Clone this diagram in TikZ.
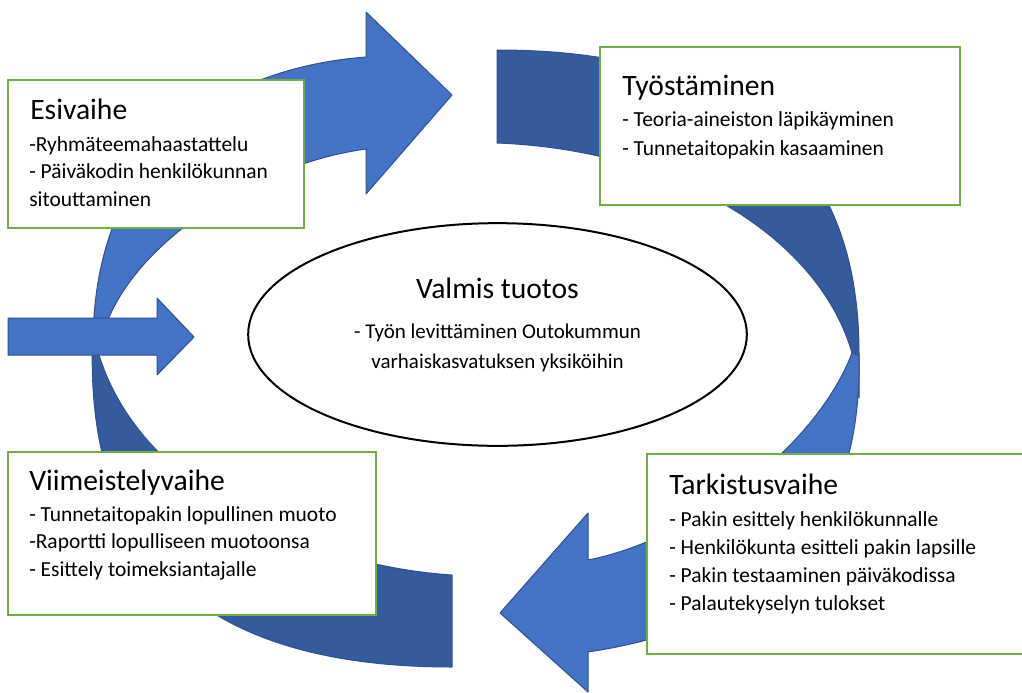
\documentclass[tikz,border=0pt]{standalone}
\usepackage{fontspec}
\setmainfont{Carlito}
\usetikzlibrary{calc}
\usetikzlibrary{positioning}
\usetikzlibrary{shapes.geometric}

\definecolor{boxgreen}{HTML}{70AD47}
\definecolor{arrowblue}{HTML}{4472C4}
\definecolor{arrowdark}{HTML}{365B9D}
\definecolor{arrowline}{HTML}{2F528F}

\begin{document}
\begin{tikzpicture}[x=0.75pt, y=-0.75pt,
    stage/.style={rectangle, draw=boxgreen, line width=1.5pt, fill=white},
    phase/.style={anchor=base west, inner sep=0pt, font=\fontsize{22.2}{26}\selectfont},
    item/.style={anchor=base west, inner sep=0pt, font=\fontsize{16.1}{19}\selectfont},
    front/.style={fill=arrowblue, draw=arrowline, line width=0.75pt, line join=round},
    back/.style={fill=arrowdark, draw=arrowline, line width=0.75pt, line join=round}]
    \clip (0,0) rectangle (1022,693);
    \fill[white] (0,0) rectangle (1022,693);

    % back halves of the two curved arrows
    \draw[back] (497,50) .. controls (720,50) and (859,140) .. (859,353) -- (859,398) -- (852,353) .. controls (820,240) and (680,150) .. (497,143) -- cycle;
    \draw[back] (452,575) .. controls (300,565) and (120,480) .. (93,330) .. controls (80,580) and (230,667) .. (452,667) -- cycle;

    % front halves with heads
    \draw[front] (93,345) .. controls (93,170) and (200,70) .. (366,57) -- (366,12) -- (452,95) -- (366,194) -- (366,149) .. controls (250,165) and (120,250) .. (100,345) -- cycle;
    \draw[front] (852,353) .. controls (815,450) and (690,540) .. (588,560) -- (588,513) -- (500,613) -- (588,692) -- (588,652) .. controls (800,620) and (862,500) .. (859,355) -- cycle;

    % phase boxes
    \node[stage, minimum width=222pt, minimum height=111pt] (esi) at (156,154) {};
    \node[stage, minimum width=270pt, minimum height=118.5pt] (tyo) at (780,126) {};
    \node[stage, minimum width=276pt, minimum height=122.25pt] (vii) at (192,533.5) {};
    \node[stage, minimum width=294.75pt, minimum height=150pt] (tar) at (843.5,554) {};

    \node[phase] (esi-t) at ($(esi.north west)+(23,40)$) {Esivaihe};
    \foreach \x [count=\i from 0] in {-Ryhmäteemahaastattelu, - Päiväkodin henkilökunnan, sitouttaminen}
        \node[item] (esi-\i) at ($(esi-t.base west)+(-1,32+27.5*\i)$) {\x};

    \node[phase] (tyo-t) at ($(tyo.north west)+(23,49)$) {Työstäminen};
    \foreach \x [count=\i from 0] in {- Teoria-aineiston läpikäyminen, - Tunnetaitopakin kasaaminen}
        \node[item] (tyo-\i) at ($(tyo-t.base west)+(0,31+29*\i)$) {\x};

    \node[phase] (vii-t) at ($(vii.north west)+(22,39)$) {Viimeistelyvaihe};
    \foreach \x [count=\i from 0] in {- Tunnetaitopakin lopullinen muoto, -Raportti lopulliseen muotoonsa, - Esittely toimeksiantajalle}
        \node[item] (vii-\i) at ($(vii-t.base west)+(0,31+27.5*\i)$) {\x};

    \node[phase] (tar-t) at ($(tar.north west)+(23,41)$) {Tarkistusvaihe};
    \foreach \x [count=\i from 0] in {- Pakin esittely henkilökunnalle, - Henkilökunta esitteli pakin lapsille, - Pakin testaaminen päiväkodissa, - Palautekyselyn tulokset}
        \node[item] (tar-\i) at ($(tar-t.base west)+(0,32+28*\i)$) {\x};

    % result in the middle
    \node[ellipse, draw, line width=1.5pt, fill=white, inner sep=0pt, minimum width=374pt, minimum height=167pt] (valmis) at (497.5,334.5) {};
    \node[phase, anchor=base] (valmis-t) at ($(valmis.center)+(0,-36.5)$) {Valmis tuotos};
    \node[item, anchor=base, font=\fontsize{15.75}{19}\selectfont] (valmis-1) at ($(valmis.center)+(0,3.5)$) {- Työn levittäminen Outokummun};
    \node[item, anchor=base, font=\fontsize{15.75}{19}\selectfont] (valmis-2) at ($(valmis.center)+(0,33.5)$) {varhaiskasvatuksen yksiköihin};

    % arrow into the cycle from the left
    \draw[front] (8,318) -- (157,318) -- (157,298) -- (194,337) -- (157,375) -- (157,355) -- (8,355) -- cycle;
\end{tikzpicture}
\end{document}
